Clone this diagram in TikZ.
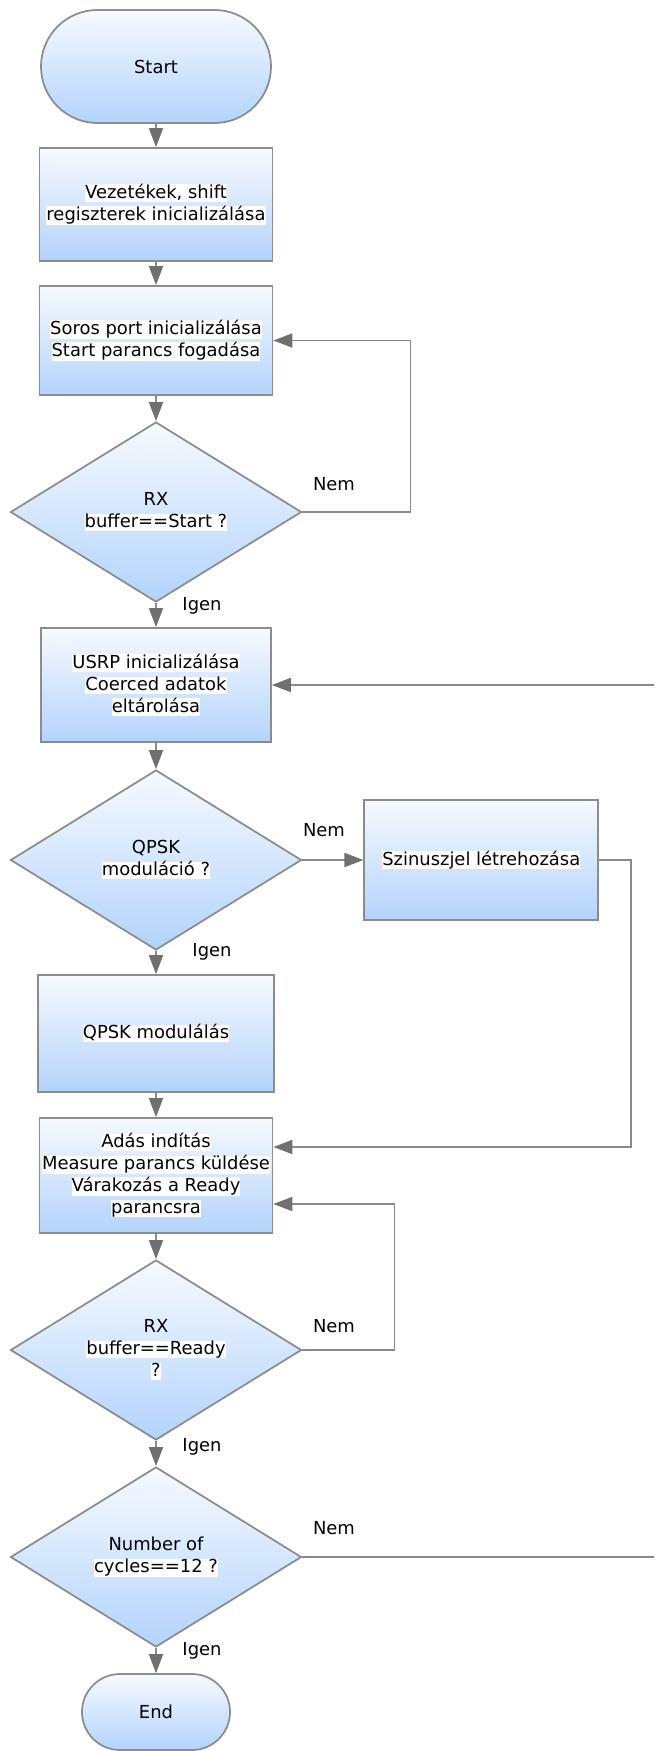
\documentclass[tikz,border=0pt]{standalone}
\usepackage{fontspec}
\setmainfont{DejaVu Sans}
\usepackage{tikz}
\usepackage{xcolor}
\usetikzlibrary{arrows.meta, shapes.geometric, positioning}

\definecolor{boxgray}{HTML}{8C8C8C}
\definecolor{linegray}{HTML}{8A8A8A}
\definecolor{tipgray}{HTML}{707070}
\definecolor{flowtop}{HTML}{F7FAFF}
\definecolor{flowbottom}{HTML}{B3D3FC}

\newcommand{\flowfont}{\fontsize{10.2pt}{12.5pt}\selectfont}
\newcommand{\wbg}[1]{{\setlength{\fboxsep}{0pt}\colorbox{white}{\rule[-0.2em]{0pt}{0.95em}#1}}}

\tikzset{
    flowbox/.style={draw=boxgray, line width=0.35mm, top color=flowtop, bottom color=flowbottom,
        minimum width=46.6mm, minimum height=22.6mm, inner sep=0pt, align=center, font=\flowfont},
    terminal/.style={flowbox, rounded corners=#1},
    decision/.style={flowbox, diamond, shape aspect=1.6, minimum width=58.2mm, minimum height=36mm},
    flowline/.style={draw=linegray, line width=0.35mm, -{Triangle[length=3.8mm, width=2.8mm, color=tipgray]}},
    answer/.style={font=\flowfont},
}

\begin{document}
\begin{tikzpicture}[x=0.2mm, y=-0.2mm]
                        \useasboundingbox (0, 0) rectangle (654, 1751);
                        \clip (0, 0) rectangle (654, 1751);
                        \node[terminal=11.3mm, minimum width=46mm] (start) at (156, 66.5) {Start};
                        \node[flowbox] (init) at (156, 204.5) {\wbg{Vezetékek, shift}\\\wbg{regiszterek inicializálása}};
                        \node[flowbox, minimum height=21.8mm] (serial) at (156, 340.5) {\wbg{Soros port inicializálása}\\\wbg{Start parancs fogadása}};
                        \node[decision] (rxstart) at (156, 512) {RX\\\wbg{buffer==Start ?}};
                        \node[flowbox, minimum width=46mm, minimum height=22.8mm] (usrp) at (156, 685) {\wbg{USRP inicializálása}\\\wbg{Coerced adatok}\\\wbg{eltárolása}};
                        \node[decision] (qpsk) at (156, 860) {QPSK\\\wbg{moduláció ?}};
                        \node[flowbox, minimum width=46.8mm, minimum height=24mm, right=12.2mm of qpsk] (sinus) {\wbg{Szinuszjel létrehozása}};
                        \node[flowbox, minimum width=47.2mm, minimum height=23.4mm] (modul) at (156, 1033.5) {\wbg{QPSK modulálás}};
                        \node[flowbox, minimum height=23mm] (adas) at (156, 1175.5) {\wbg{Adás indítás}\\\wbg{Measure parancs küldése}\\\wbg{Várakozás a Ready}\\\wbg{parancsra}};
                        \node[decision] (rxready) at (156, 1350) {RX\\\wbg{buffer==Ready}\\\wbg{?}};
                        \node[decision] (cycles) at (156, 1557) {Number of\\\wbg{cycles==12 ?}};
                        \node[terminal=7.6mm, minimum width=29.6mm, minimum height=15.2mm] (end) at (156, 1712) {End};
                        \node[answer] (nem1) at (334, 484) {Nem};
                        \node[answer] (igen1) at (202, 606) {Igen};
                        \node[answer] (nem2) at (324, 830) {Nem};
                        \node[answer] (igen2) at (212, 952) {Igen};
                        \node[answer] (nem3) at (334, 1326) {Nem};
                        \node[answer] (igen3) at (202, 1447) {Igen};
                        \node[answer] (nem4) at (334, 1528) {Nem};
                        \node[answer] (igen4) at (202, 1651) {Igen};
                        \draw
                        (start) edge[flowline] (init)
                        (init) edge[flowline] (serial)
                        (serial) edge[flowline] (rxstart)
                        (rxstart) edge[flowline] (usrp)
                        (usrp) edge[flowline] (qpsk)
                        (qpsk) edge[flowline] (sinus)
                        (qpsk) edge[flowline] (modul)
                        (modul) edge[flowline] (adas)
                        (adas) edge[flowline] (rxready)
                        (rxready) edge[flowline] (cycles)
                        (cycles) edge[flowline] (end);
                        \draw[flowline] (rxstart.east) -- ++(108, 0) |- (serial.east);
                        \draw[flowline] (sinus.east) -- ++(32, 0) |- ([yshift=5.7mm]adas.east);
                        \draw[flowline] (rxready.east) -- ++(92, 0) |- ([yshift=-5.7mm]adas.east);
                        \draw[flowline] (cycles.east) -- ++(420, 0) |- (usrp.east);
                    \end{tikzpicture}
\end{document}
